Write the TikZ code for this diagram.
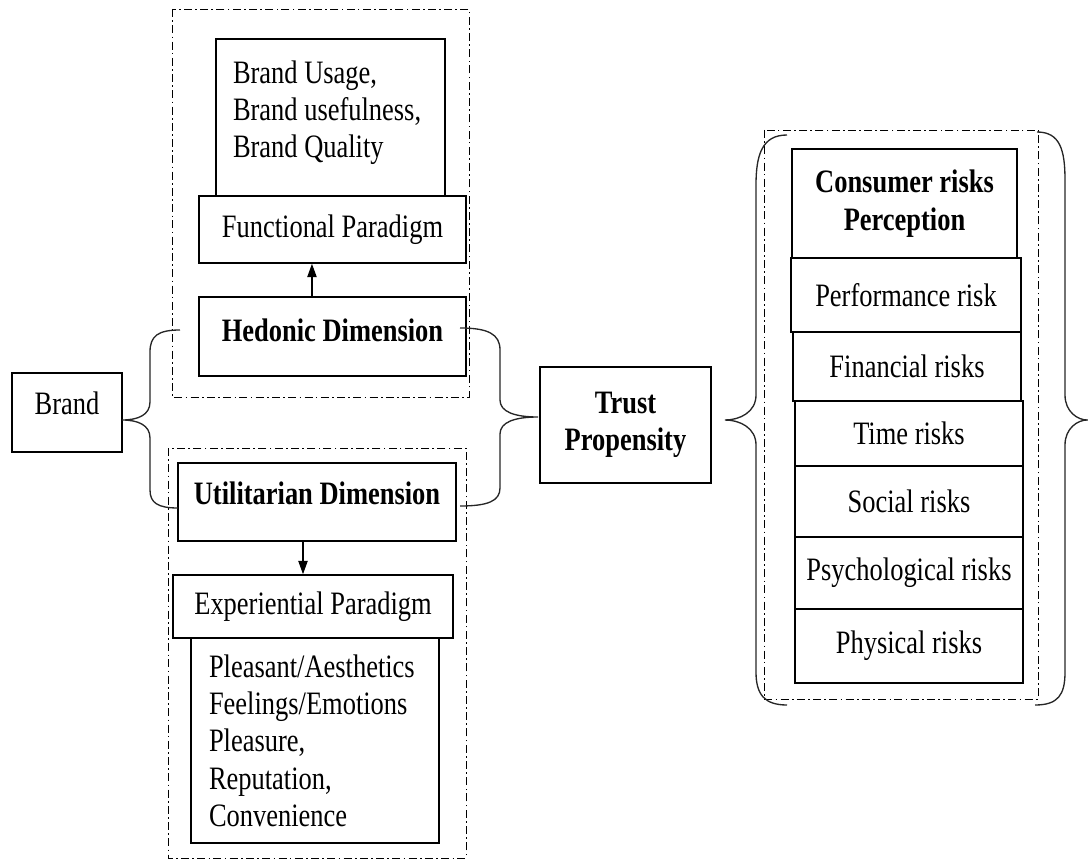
\documentclass[tikz,border=0pt]{standalone}
\usepackage{fontspec}
\setmainfont{Liberation Serif}[FakeStretch=0.81]
\usetikzlibrary{arrows.meta}
\newcommand\diafont{\fontsize{24.5}{28}\selectfont}

\begin{document}
\begin{tikzpicture}[
   x=0.75pt, y=-0.75pt,
   font=\diafont,
   box/.style={rectangle, draw, line width=1.2pt, inner sep=0pt},
   wh/.style 2 args={minimum width=#1*0.75pt, minimum height=#2*0.75pt},
   raised/.style={text depth=#1},
   bold/.style={font=\diafont\bfseries},
   dashbox/.style={draw, line width=0.7pt, dash pattern=on 6pt off 2.5pt on 1.2pt off 2.5pt},
   curly/.style={line width=1pt, black!85},
   arrow/.style={-{Triangle[length=10pt,width=7pt]}, line width=0.9pt}
]
\useasboundingbox (0,0) rectangle (1088,859);

% Brand
\node[box, wh={110}{79}, raised=14pt] (brand) at (67,412.5) {Brand};

% Hedonic Side
\draw[dashbox] (172,9) rectangle (469,397);
\node[box, wh={229}{157}, align=flush left, text width=146.25pt, inner xsep=12.75pt, raised=68.5pt] (usage) at (330.5,117.5) {Brand Usage,\\ Brand usefulness,\\ Brand Quality};
\node[box, wh={267}{67}] (functional) at (332.5,229.5) {Functional Paradigm};
\node[box, wh={267}{79}, raised=10pt, bold] (hedonic) at (332.5,336.5) {Hedonic Dimension};

% Utilitarian Side
\draw[dashbox] (168,448) rectangle (466,858);
\node[box, wh={278}{78}, raised=13.5pt, bold] (utilitarian) at (317,502) {Utilitarian Dimension};
\node[box, wh={280}{63}] (experiential) at (313,606.5) {Experiential Paradigm};
\node[box, wh={248}{205}, align=flush left, text width=159pt, inner xsep=13.5pt] (feelings) at (315,740.5) {Pleasant/Aesthetics\\ Feelings/Emotions\\ Pleasure,\\ Reputation,\\ Convenience};

% Trust
\node[box, wh={171}{116}, bold, align=center] (trust) at (625.5,425) {Trust\\ Propensity};

% Risks
\draw[dashbox] (764,130) rectangle (1038,699);
\node[box, wh={225}{109}, bold, align=center] (consumer) at (904.5,203.5) {Consumer risks\\ Perception};
\node[box, wh={230}{74}] (performance) at (906,295) {Performance risk};
\node[box, wh={228}{69}] (financial) at (907,366.5) {Financial risks};
\node[box, wh={228}{65}] (time) at (909,433.5) {Time risks};
\node[box, wh={228}{71}] (social) at (909,501.5) {Social risks};
\node[box, wh={228}{72}] (psychological) at (909,573) {Psychological risks};
\node[box, wh={228}{74}] (physical) at (909,646) {Physical risks};

% Arrows
\draw[arrow] ([xshift=-15.4pt]hedonic.north) -- ([xshift=-15.4pt]hedonic.north |- functional.south);
\draw[arrow] ([xshift=-10.5pt]utilitarian.south) -- ([xshift=-10.5pt]utilitarian.south |- experiential.north);

% Braces
\coordinate (brandtip) at (122,420);
\coordinate (hedL) at (180,330);
\coordinate (utiL) at (178,508);
\draw[curly] (hedL) .. controls (158,330) and (150,336) .. (150,352) -- (150,402) .. controls (150,415) and (138,420) .. (brandtip) .. controls (138,420) and (150,425) .. (150,438) -- (150,490) .. controls (150,503) and (158,508) .. (utiL);

\coordinate (trusttip) at (538,417);
\coordinate (hedR) at (460,328);
\coordinate (utiR) at (460,506);
\draw[curly] (hedR) .. controls (488,328) and (500,334) .. (500,350) -- (500,400) .. controls (500,412) and (515,417) .. (trusttip) .. controls (515,417) and (500,422) .. (500,434) -- (500,488) .. controls (500,501) and (488,506) .. (utiR);

\draw[curly] (787,135) .. controls (762,135) and (756,155) .. (756,185) -- (756,395) .. controls (756,412) and (740,420) .. (725,420) .. controls (740,420) and (756,428) .. (756,445) -- (756,672) .. controls (756,695) and (765,705) .. (787,705);
\draw[curly] (1037,132) .. controls (1060,132) and (1065,150) .. (1065,180) -- (1065,395) .. controls (1065,412) and (1078,420) .. (1087,420) .. controls (1078,420) and (1065,428) .. (1065,445) -- (1065,672) .. controls (1065,695) and (1058,705) .. (1035,705);

\end{tikzpicture}
\end{document}
